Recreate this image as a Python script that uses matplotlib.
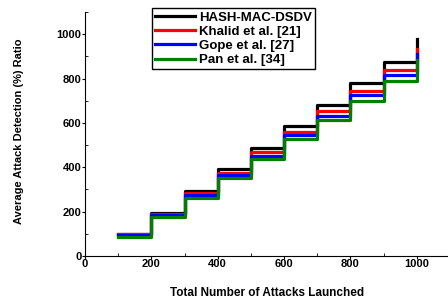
import matplotlib.pyplot as plt
from matplotlib.ticker import MultipleLocator

# data (steps-post, x = attacks launched)
attacks = [100, 200, 300, 400, 500, 600, 700, 800, 900, 1000]
hash_mac_dsdv = [100, 195, 294, 390, 487, 585, 680, 778, 875, 980]
khalid = [97, 190, 285, 375, 467, 560, 654, 745, 840, 935]
gope = [93, 184, 275, 363, 453, 545, 632, 724, 817, 910]
pan = [87, 174, 263, 350, 437, 527, 615, 700, 790, 883]

series = [
    ("HASH-MAC-DSDV", hash_mac_dsdv, "black"),
    ("Khalid et al. [21]", khalid, "red"),
    ("Gope et al. [27]", gope, "blue"),
    ("Pan et al. [34]", pan, "green"),
]

plt.rcParams["font.family"] = ["Liberation Sans", "DejaVu Sans"]
plt.rcParams["font.weight"] = "bold"

fig = plt.figure(figsize=(4.48, 3.0), dpi=100)
ax = fig.add_axes([85 / 448, 44 / 300, 365 / 448, 244 / 300])

for label, vals, col in series:
    ax.plot(attacks, vals, drawstyle="steps-post", color=col, lw=2.3, label=label)

ax.set_xlim(0, 1100)
ax.set_ylim(0, 1100)
ax.xaxis.set_minor_locator(MultipleLocator(100))
ax.yaxis.set_minor_locator(MultipleLocator(100))
ax.set_xticks([0, 200, 400, 600, 800, 1000])
ax.set_yticks([0, 200, 400, 600, 800, 1000])

ax.spines["top"].set_visible(False)
ax.spines["right"].set_visible(False)

ax.tick_params(which="major", direction="out", length=2, width=0.8, pad=0.5, labelsize=8)
ax.tick_params(which="minor", direction="in", length=2, width=0.6)
for t in ax.get_xticklabels() + ax.get_yticklabels():
    t.set_fontweight("bold")

ax.set_xlabel("Total Number of Attacks Launched", fontsize=8.5, fontweight="bold")
ax.xaxis.set_label_coords(0.5, -0.125)
ax.set_ylabel("Average Attack Detection (%) Ratio", fontsize=8, fontweight="bold")
ax.yaxis.set_label_coords(-0.168, 0.512)

leg = ax.legend(loc="upper left", bbox_to_anchor=(152 / 448, 1 - 8 / 300),
                bbox_transform=fig.transFigure, borderaxespad=0, fancybox=False,
                framealpha=1, edgecolor="black", handlelength=3.0, handletextpad=0.3,
                borderpad=0.25, labelspacing=0.15, prop={"weight": "bold", "size": 9.5})
leg.get_frame().set_linewidth(1.0)

fig.savefig("out.png", dpi=100)
